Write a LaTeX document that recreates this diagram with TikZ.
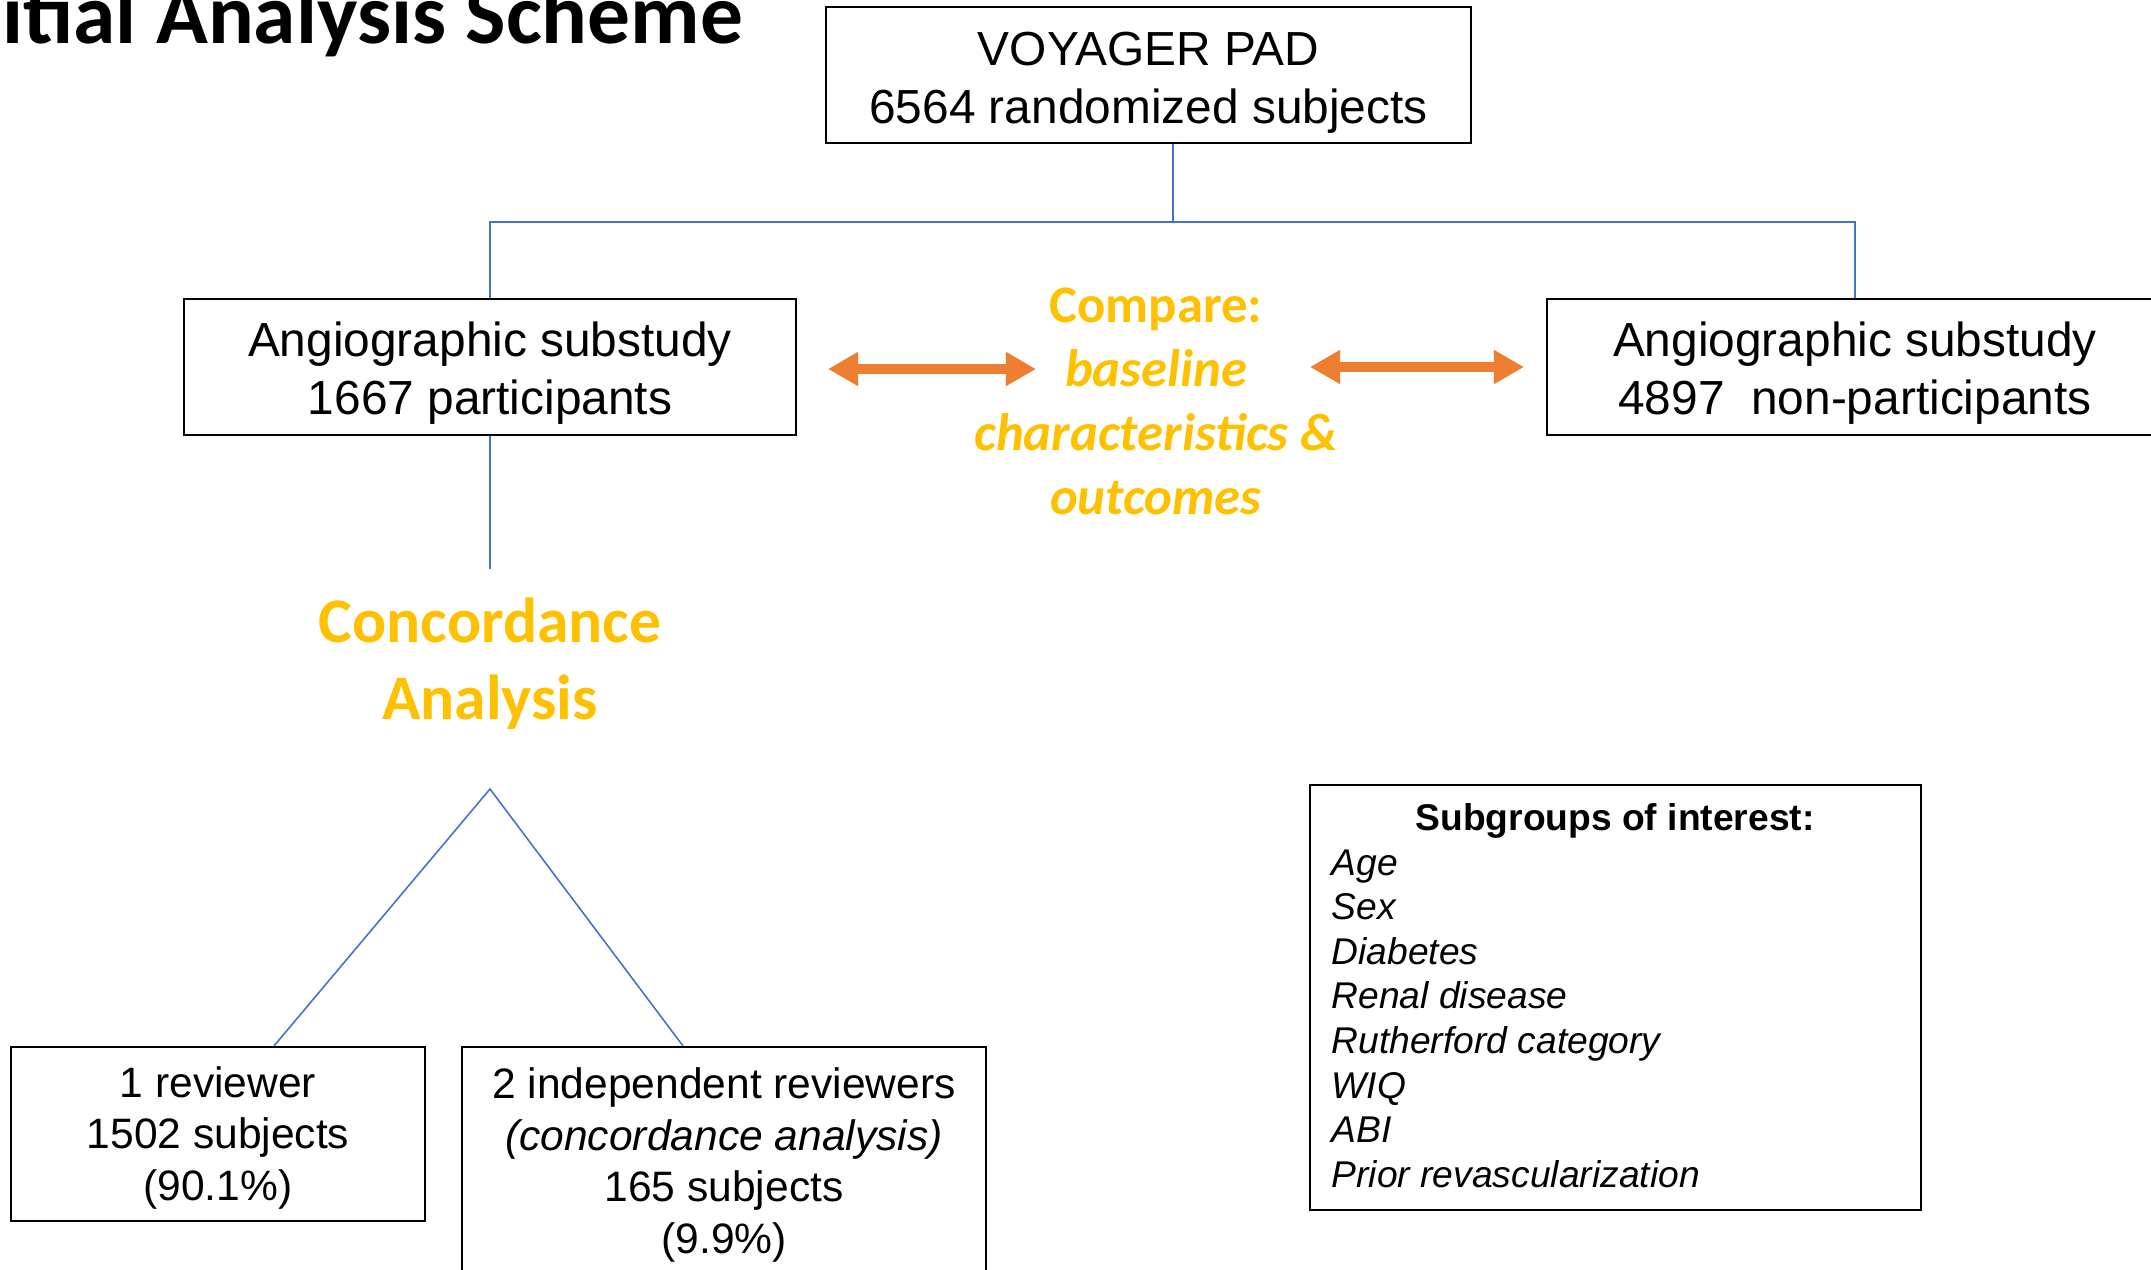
\documentclass[tikz,border=0pt]{standalone}
\usepackage{fontspec}
\setmainfont{Liberation Sans}
\newfontfamily\calibri{Carlito}
\usetikzlibrary{arrows.meta}
\definecolor{linkblue}{HTML}{4472C4}
\definecolor{gold}{HTML}{FFC000}
\definecolor{arroworange}{HTML}{ED7D31}
\newcommand\topstrut[1]{\rule{0pt}{#1}}
\begin{document}
\begin{tikzpicture}[x=0.01cm,y=-0.01cm,
  box/.style={draw=black, line width=0.6pt, inner sep=0pt, align=center},
  bigtext/.style={font=\fontsize{13.6pt}{16.5pt}\selectfont},
  midtext/.style={font=\fontsize{12.1pt}{14.7pt}\selectfont},
  subhead/.style={font=\fontsize{10.58pt}{12.7pt}\selectfont\bfseries},
  subitem/.style={font=\fontsize{10.58pt}{12.7pt}\selectfont\itshape},
  link/.style={draw=linkblue, line width=0.45pt},
  biarrow/.style={draw=arroworange, line width=0.1cm,
    {Triangle[length=0.30cm,width=0.32cm]}-{Triangle[length=0.30cm,width=0.32cm]}},
  goldtext/.style={text=gold, inner sep=0pt, align=center}
]
\useasboundingbox (0,0) rectangle (2151,1269);

% title
\node[anchor=base west, inner sep=0pt, font=\calibri\bfseries\fontsize{24.3pt}{28pt}\selectfont] (title) at (2,43) {itial Analysis Scheme};

% boxes
\node[box, bigtext, minimum width=6.45cm, minimum height=1.36cm] (top) at (1148.5,75) {\topstrut{14pt}VOYAGER PAD\\6564 randomized subjects};
\node[box, bigtext, minimum width=6.12cm, minimum height=1.36cm] (left) at (490,367) {\topstrut{13.1pt}Angiographic substudy\\1667 participants};
\node[box, bigtext, minimum width=6.16cm, minimum height=1.36cm] (right) at (1855,367) {\topstrut{13.1pt}Angiographic substudy\\4897~ non-participants};
\node[box, midtext, minimum width=4.14cm, minimum height=1.74cm] (b1) at (218,1134) {\topstrut{11pt}1 reviewer\\1502 subjects\\(90.1\%)};
\node[box, midtext, minimum width=5.24cm, minimum height=2.28cm] (b2) at (724,1161) {\topstrut{11.1pt}2 independent reviewers\\\textit{(concordance analysis)}\\165 subjects\\(9.9\%)};

% compare text
\node[goldtext, font=\calibri\bfseries\fontsize{15pt}{18.2pt}\selectfont] (cmp) at (1156,401) {Compare:\\\textit{baseline}\\\textit{characteristics \&}\\\textit{outcomes}};

% concordance
\node[goldtext, font=\calibri\bfseries\fontsize{18.07pt}{21.9pt}\selectfont] (conc) at (490,664) {Concordance\\Analysis};

% subgroups box
\node[box, minimum width=6.11cm, minimum height=4.25cm] (sub) at (1615.5,997.5) {};
\node[subhead, anchor=base, inner sep=0pt] (subt) at (1615,830) {Subgroups of interest:};
\foreach \t [count=\i] in {Age, Sex, Diabetes, Renal disease, Rutherford category, WIQ, ABI, Prior revascularization}{
  \node[subitem, anchor=base west, inner sep=0pt] (s\i) at (1331,{875+(\i-1)*44.6}) {\t};
}

% connectors
\coordinate (bus) at (1173,222);
\draw[link] (top.south -| bus) -- (bus);
\draw[link] (left.north) -- (left.north |- bus) -- (right.north |- bus) -- (right.north);
\coordinate (cTop) at (490,569);
\draw[link] (left.south) -- (cTop);
\coordinate (apex) at (490,789);
\draw[link] ([xshift=0.56cm]b1.north) -- (apex) -- ([xshift=-0.41cm]b2.north);

% compare arrows
\coordinate (a1l) at (828,369);
\coordinate (a1r) at (1036,369);
\coordinate (a2l) at (1310,367);
\coordinate (a2r) at (1524,367);
\draw[biarrow] (a1l) -- (a1r);
\draw[biarrow] (a2l) -- (a2r);
\end{tikzpicture}
\end{document}
